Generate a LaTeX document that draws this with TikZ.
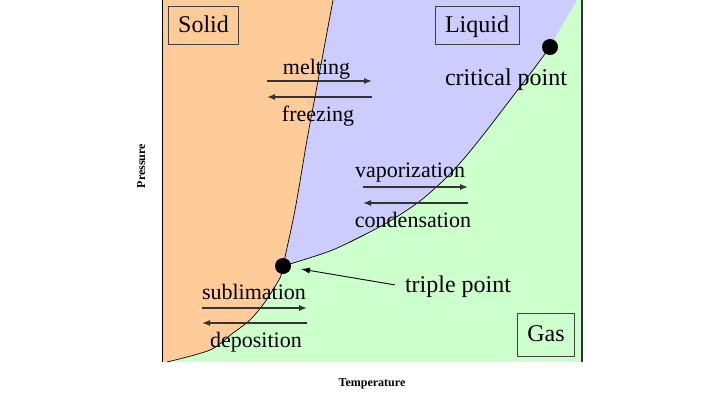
\documentclass[tikz,border=0pt]{standalone}
\usepackage{fontspec}
\setmainfont{Liberation Serif}
\usepackage{xcolor}
\usetikzlibrary{arrows,arrows.meta}
\usetikzlibrary{math}

\definecolor{solidc}{HTML}{FFCC99}
\definecolor{liquidc}{HTML}{CCCCFF}
\definecolor{gasc}{HTML}{CCFFCC}

\tikzset{
phasebox/.style={draw=black!75, line width=0.9, inner xsep=10, minimum height=38, text height=15, text depth=1, font=\fontsize{24}{28}\selectfont},
proclabel/.style={anchor=base, inner sep=0, font=\fontsize{22}{26}\selectfont},
pointlabel/.style={anchor=base, inner sep=2, font=\fontsize{24}{28}\selectfont},
axislabel/.style={anchor=base, inner sep=0, font=\fontsize{12}{14}\selectfont\bfseries},
dot/.style={circle, fill=black, inner sep=0, minimum size=16},
procarrow/.style={-{Latex[length=8,width=6]}, line width=1.2, draw=black!80},
}

\begin{document}
\begin{tikzpicture}[x=1pt,y=-1pt]
\tikzmath{
\xleft=162;
\xright=582;
\ybot=362;
}
\useasboundingbox (0,0) rectangle (720,405);

\fill[gasc] (\xleft,0) rectangle (\xright,\ybot);

\fill[liquidc] (333,0) -- (577,0) .. controls (565,20) .. (550,47)
 -- plot[smooth] coordinates {(550,47) (533,70) (510,100) (487,130) (467,155) (447,177) (420,201) (390,221) (360,237) (330,251) (290,264) (283,266)}
 -- plot[smooth] coordinates {(283,266) (295,210) (307,140) (320,70) (333,0)} -- cycle;

\fill[solidc] (\xleft,0) -- plot[smooth] coordinates {(333,0) (320,70) (307,140) (295,210) (283,266)}
 -- plot[smooth] coordinates {(283,266) (280,278) (265,302) (250,320) (233,333) (210,350) (167,362)}
 -- (\xleft,\ybot) -- cycle;

\draw[line width=0.7] plot[smooth] coordinates {(333,0) (320,70) (307,140) (295,210) (283,266)};
\draw[line width=0.7] plot[smooth] coordinates {(550,47) (533,70) (510,100) (487,130) (467,155) (447,177) (420,201) (390,221) (360,237) (330,251) (290,264) (283,266)};
\draw[line width=0.7] plot[smooth] coordinates {(283,266) (280,278) (265,302) (250,320) (233,333) (210,350) (167,362)};

\draw[line width=1] (\xleft,0) -- (\xleft,\ybot);
\draw[line width=1.5, black!80] (\xright,0) -- (\xright,\ybot);

\node[dot] (triple) at (283,266) {};
\node[dot] (crit) at (550,47) {};

\node[phasebox] (solid) at (203.5,25) {Solid};
\node[phasebox] (liquid) at (477,25) {Liquid};
\node[phasebox, minimum height=43] (gas) at (546,334.5) {Gas};

\node[proclabel] (melt) at (316.5,74) {melting};
\node[proclabel] (freeze) at (318,121) {freezing};
\node[proclabel] (vap) at (410,177) {vaporization};
\node[proclabel] (cond) at (413,227) {condensation};
\node[proclabel] (subl) at (254,299) {sublimation};
\node[proclabel] (depo) at (256,347) {deposition};

\node[pointlabel] (critlabel) at (506,85) {critical point};
\node[pointlabel] (triplabel) at (458,292) {triple point};

\foreach \nm/\xa/\xb/\ya/\yb in {ml/267/372/81/97, vp/363/468/187/203, sb/202/307/308/323}{
\coordinate (\nm-a) at (\xa,\ya);
\coordinate (\nm-b) at (\xb,\ya);
\coordinate (\nm-c) at (\xb,\yb);
\coordinate (\nm-d) at (\xa,\yb);
\draw[procarrow] (\nm-a) -- (\nm-b);
\draw[procarrow] (\nm-c) -- (\nm-d);
}

\draw[-{Latex[length=9,width=6]}, line width=0.9, shorten <=8, shorten >=10] (triplabel.west) -- (triple);

\node[axislabel] (temp) at (372,386) {Temperature};
\node[axislabel, rotate=90] (pres) at (145,166) {Pressure};

\end{tikzpicture}
\end{document}
